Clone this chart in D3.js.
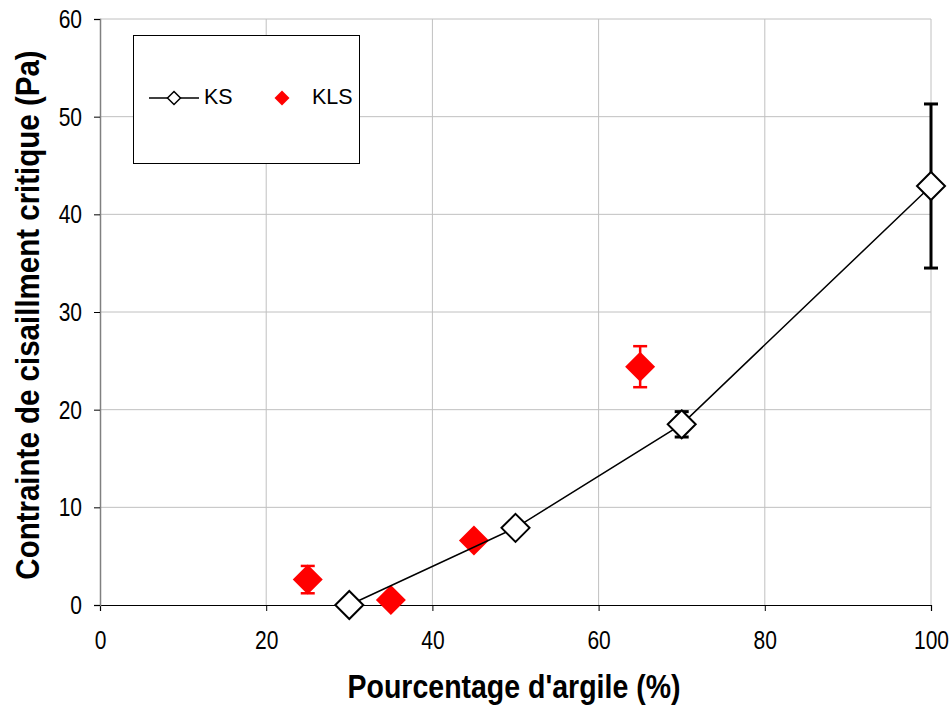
<!DOCTYPE html>
<html>
<head>
<meta charset="utf-8">
<script src="https://cdn.jsdelivr.net/npm/d3@7"></script>
<style>
  body { margin: 0; background: #fff; }
  text { font-family: Arial, "Liberation Sans", sans-serif; }
</style>
</head>
<body>
<div id="chart"></div>
<script>
// KS series (line + open diamonds)
const ksX = [30, 50, 70, 100];
const ksY = [0, 7.9, 18.5, 42.9];
const ksErr = [0, 0, 1.3, 8.4];

// KLS series (red diamonds)
const klsX = [25, 35, 45, 65];
const klsY = [2.6, 0.5, 6.6, 24.4];
const klsErr = [1.4, 0, 0.6, 2.1];

const xTicks = [0, 20, 40, 60, 80, 100];
const yTicks = [0, 10, 20, 30, 40, 50, 60];

const width = 952, height = 709;
const margin = { left: 100, right: 21, top: 19, bottom: 104 };

const svg = d3.select('#chart').append('svg')
    .attr('width', width)
    .attr('height', height);

const x = d3.scaleLinear().domain([0, 100]).range([margin.left, width - margin.right]);
const y = d3.scaleLinear().domain([0, 60]).range([height - margin.bottom, margin.top]);

// grid
svg.append('g').selectAll('line')
    .data(xTicks.slice(1))
    .join('line')
    .attr('x1', d => x(d)).attr('x2', d => x(d))
    .attr('y1', y(0)).attr('y2', y(60))
    .attr('stroke', '#c0c0c0').attr('stroke-width', 1);

svg.append('g').selectAll('line')
    .data(yTicks.slice(1))
    .join('line')
    .attr('x1', x(0)).attr('x2', x(100))
    .attr('y1', d => y(d)).attr('y2', d => y(d))
    .attr('stroke', '#c0c0c0').attr('stroke-width', 1);

// axes
const xAxis = svg.append('g')
    .attr('transform', `translate(0,${y(0)})`)
    .call(d3.axisBottom(x).tickValues(xTicks).tickSize(6));
const yAxis = svg.append('g')
    .attr('transform', `translate(${x(0)},0)`)
    .call(d3.axisLeft(y).tickValues(yTicks).tickSize(6));

xAxis.select('.domain').attr('stroke', '#000').attr('stroke-width', 1.2);
xAxis.selectAll('.tick line').attr('stroke', '#000');
yAxis.select('.domain').attr('stroke', '#808080').attr('stroke-width', 1.5);
yAxis.selectAll('.tick line').attr('stroke', '#000');
svg.selectAll('.tick text')
    .style('font-size', '21px')
    .style('font-family', 'Arial, "Liberation Sans", sans-serif')
    .attr('fill', '#000')
    .attr('dy', null).attr('x', 0).attr('y', 0);
// labels in the original are drawn a bit taller than wide
xAxis.selectAll('.tick text')
    .attr('transform', 'translate(0,43.5) scale(1,1.25)');
yAxis.selectAll('.tick text')
    .attr('transform', 'translate(-18,8.5) scale(1,1.25)');

// axis titles
svg.append('text')
    .attr('transform', 'translate(514,698) scale(1,1.15)')
    .attr('text-anchor', 'middle')
    .style('font-size', '28.5px')
    .style('font-weight', 'bold')
    .text("Pourcentage d'argile (%)");

svg.append('text')
    .attr('transform', 'translate(39,315) rotate(-90) scale(1,1.1)')
    .attr('text-anchor', 'middle')
    .style('font-size', '29.5px')
    .style('font-weight', 'bold')
    .text('Contrainte de cisaillment critique (Pa)');

const ks = ksX.map((v, i) => ({ x: v, y: ksY[i], e: ksErr[i] }));
const kls = klsX.map((v, i) => ({ x: v, y: klsY[i], e: klsErr[i] }));

function diamond(cx, cy, r) {
    return `M${cx},${cy - r}L${cx + r},${cy}L${cx},${cy + r}L${cx - r},${cy}Z`;
}

function errorBars(g, data, color, sw) {
    const eb = g.selectAll('g.eb')
        .data(data.filter(d => d.e > 0))
        .join('g');
    eb.append('line')
        .attr('x1', d => x(d.x)).attr('x2', d => x(d.x))
        .attr('y1', d => y(d.y - d.e)).attr('y2', d => y(d.y + d.e))
        .attr('stroke', color).attr('stroke-width', sw);
    [-1, 1].forEach(s => {
        eb.append('line')
            .attr('x1', d => x(d.x) - 7).attr('x2', d => x(d.x) + 7)
            .attr('y1', d => y(d.y + s * d.e)).attr('y2', d => y(d.y + s * d.e))
            .attr('stroke', color).attr('stroke-width', sw);
    });
}

// KLS
const gKls = svg.append('g');
errorBars(gKls, kls, '#ff0000', 2.5);
gKls.selectAll('path')
    .data(kls)
    .join('path')
    .attr('d', d => diamond(x(d.x), y(d.y), 15))
    .attr('fill', '#ff0000');

// KS
const gKs = svg.append('g');
errorBars(gKs, ks, '#000', 3);
gKs.append('path')
    .datum(ks)
    .attr('d', d3.line().x(d => x(d.x)).y(d => y(d.y)))
    .attr('fill', 'none')
    .attr('stroke', '#000')
    .attr('stroke-width', 1.5);
gKs.selectAll('path.ks')
    .data(ks)
    .join('path')
    .attr('class', 'ks')
    .attr('d', d => diamond(x(d.x), y(d.y), 14))
    .attr('fill', '#fff')
    .attr('stroke', '#000')
    .attr('stroke-width', 2);

// legend
const lg = svg.append('g');
lg.append('rect')
    .attr('x', 133.5).attr('y', 35.5)
    .attr('width', 226).attr('height', 128)
    .attr('fill', '#fff').attr('stroke', '#000').attr('stroke-width', 1);
lg.append('line')
    .attr('x1', 149).attr('x2', 199).attr('y1', 98).attr('y2', 98)
    .attr('stroke', '#000').attr('stroke-width', 1.5);
lg.append('path')
    .attr('d', diamond(174, 98, 6.5))
    .attr('fill', '#fff').attr('stroke', '#000').attr('stroke-width', 1.5);
lg.append('text')
    .attr('transform', 'translate(204,104) scale(1,1.05)')
    .style('font-size', '21.5px')
    .text('KS');
lg.append('path')
    .attr('d', diamond(282, 98, 7.5))
    .attr('fill', '#ff0000');
lg.append('text')
    .attr('transform', 'translate(312,104) scale(1,1.05)')
    .style('font-size', '21.5px')
    .text('KLS');
</script>
</body>
</html>
